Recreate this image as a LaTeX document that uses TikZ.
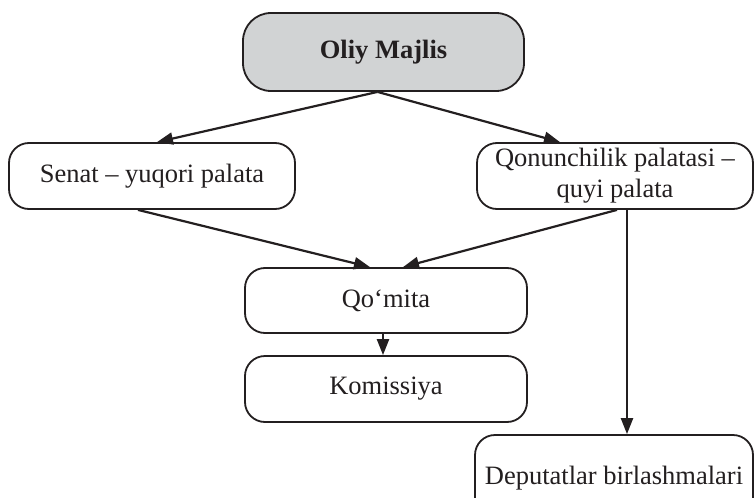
\documentclass[tikz,border=0pt]{standalone}
\usepackage{fontspec}
\setmainfont{Liberation Serif}
\usetikzlibrary{arrows.meta}
\definecolor{ink}{HTML}{231F20}
\definecolor{boxgray}{HTML}{D1D3D4}
\begin{document}
\begin{tikzpicture}[x=1pt,y=-1pt,
  box/.style={draw=ink,line width=1.8pt,rounded corners=20pt,fill=white,
    text=ink,align=center,inner sep=0pt,
    font=\fontsize{26.5}{31}\selectfont},
  conn/.style={draw=ink,line width=2.2pt,-{Triangle[length=16pt,width=12pt]}}]
\useasboundingbox (0,0) rectangle (756,498);
\clip (0,0) rectangle (756,498);
\node[box,fill=boxgray,rounded corners=28pt,minimum width=281pt,minimum height=78pt,font=\fontsize{26.5}{31}\selectfont\bfseries] (oliy) at (383.5,52) {Oliy Majlis};
\node[box,minimum width=286pt,minimum height=66pt] (senat) at (152,176) {Senat – yuqori palata};
\node[box,minimum width=276pt,minimum height=66pt] (qonun) at (615,176) {Qonunchilik palatasi –\\quyi palata};
\node[box,minimum width=282pt,minimum height=65pt] (qomita) at (386,300.5) {Qo‘mita};
\node[box,minimum width=282pt,minimum height=66pt] (komis) at (386,389) {Komissiya};
\node[box,minimum width=278pt,minimum height=86pt] (deput) at (614,478) {Deputatlar birlashmalari};
\draw[conn] ([xshift=-6pt]oliy.south) -- ([xshift=5pt]senat.north);
\draw[conn] ([xshift=-6pt]oliy.south) -- ([xshift=-55pt]qonun.north);
\draw[conn] ([xshift=-14pt]senat.south) -- ([xshift=-16pt]qomita.north);
\draw[conn] ([xshift=2pt]qonun.south) -- ([xshift=17pt]qomita.north);
\draw[conn] ([xshift=-3pt]qomita.south) -- ([xshift=-3pt]komis.north);
\draw[conn] ([xshift=12pt]qonun.south) -- ([xshift=13pt]deput.north);
\end{tikzpicture}
\end{document}
